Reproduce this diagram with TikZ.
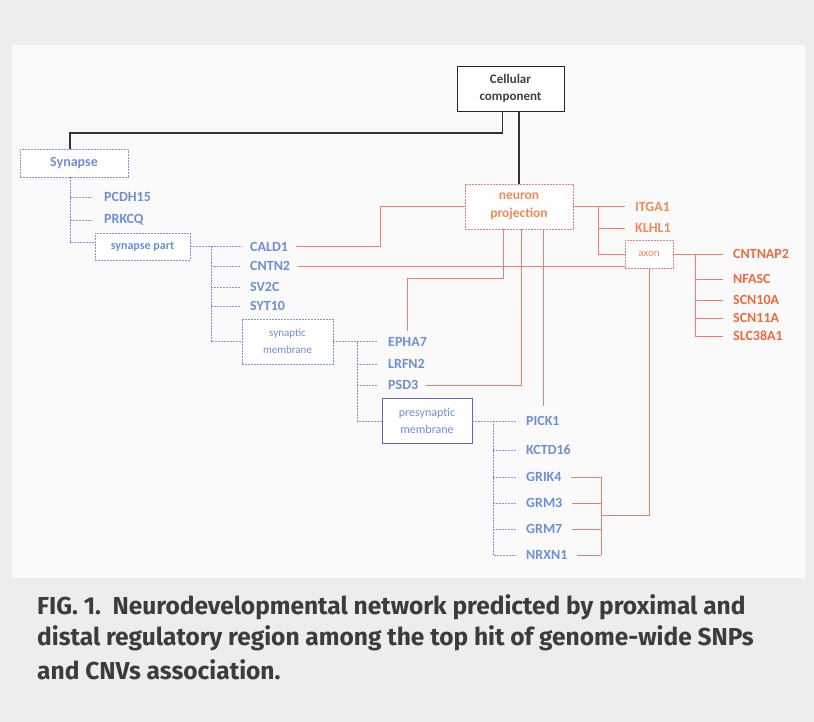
\documentclass[tikz,border=0pt]{standalone}
\usepackage{fontspec}
\newfontfamily\carlito{Carlito}
\newfontfamily\capfont{Fira Sans}
\definecolor{bgc}{HTML}{EDEDED}
\definecolor{panel}{HTML}{FAFAFA}
\definecolor{bl}{HTML}{6E8ED6}
\definecolor{blline}{HTML}{7E98D6}
\definecolor{org}{HTML}{F08A5A}
\definecolor{orgd}{HTML}{EE6A3C}
\definecolor{redl}{HTML}{F07C72}
\definecolor{capc}{HTML}{3C3C3C}
\begin{document}
\begin{tikzpicture}[x=1pt,y=-1pt,
  gb/.style={anchor=west,inner sep=0pt,text=bl,font=\carlito\bfseries\fontsize{14}{16}\selectfont},
  gr/.style={anchor=west,inner sep=0pt,text=org,font=\carlito\bfseries\fontsize{14}{16}\selectfont},
  grd/.style={gr,text=orgd},
  bline/.style={draw=blline,line width=0.6pt,dash pattern=on 2pt off 1pt},
  rline/.style={draw=redl,line width=0.7pt},
  kline/.style={draw=black!80,line width=1.2pt},
  bbox/.style={draw=blline,line width=0.6pt,dash pattern=on 2pt off 1pt,inner sep=0pt,align=center,text=bl,fill=white},
  rbox/.style={draw=redl,line width=0.6pt,dash pattern=on 2pt off 1pt,inner sep=0pt,align=center,text=org,fill=white},
  capline/.style={anchor=west,inner sep=0pt,text=capc,font=\capfont\bfseries\fontsize{24.5}{24.5}\selectfont}
]
\fill[bgc] (0,0) rectangle (814,722);
\fill[panel] (12,45) rectangle (805,578);
\useasboundingbox (0,0) rectangle (814,722);

% boxes
\node[draw=black!85,line width=0.9pt,minimum width=107pt,minimum height=45pt,inner sep=0pt,align=center,text=black!75,fill=white,font=\carlito\bfseries\fontsize{13}{17}\selectfont] (cc) at (510.5,88.5) {Cellular\\component};
\node[bbox,minimum width=108pt,minimum height=28pt,font=\carlito\bfseries\fontsize{14}{16}\selectfont] (syn) at (74,163) {Synapse};
\node[bbox,minimum width=95pt,minimum height=27pt,font=\carlito\bfseries\fontsize{12}{14}\selectfont] (sp) at (142.5,246.5) {synapse part};
\node[bbox,minimum width=91pt,minimum height=45pt,font=\carlito\fontsize{11}{17}\selectfont] (sm) at (287.5,341.5) {synaptic\\membrane};
\node[bbox,draw=black!55!blue!60,solid,minimum width=90pt,minimum height=45pt,font=\carlito\fontsize{12}{17}\selectfont] (pm) at (427,421) {presynaptic\\membrane};
\node[rbox,minimum width=108pt,minimum height=45pt,font=\carlito\bfseries\fontsize{13.5}{18}\selectfont] (np) at (519,206.5) {neuron\\projection};
\node[rbox,minimum width=48pt,minimum height=28pt,font=\carlito\fontsize{11}{12}\selectfont] (ax) at (649,254) {axon};

% genes
\node[gb] (pcdh) at (104,197) {PCDH15};
\node[gb] (prkc) at (104,220) {PRKCQ};
\node[gb] (cald) at (250,246.5) {CALD1};
\node[gb] (cntn) at (250,266) {CNTN2};
\node[gb] (sv2c) at (250,287) {SV2C};
\node[gb] (syt) at (250,306) {SYT10};
\node[gb] (epha) at (388,341.5) {EPHA7};
\node[gb] (lrfn) at (388,364) {LRFN2};
\node[gb] (psd) at (388,385) {PSD3};
\node[gb] (pick) at (526,421) {PICK1};
\node[gb] (kctd) at (526,450) {KCTD16};
\node[gb] (grik) at (526,477) {GRIK4};
\node[gb] (grm3) at (526,503) {GRM3};
\node[gb] (grm7) at (526,529) {GRM7};
\node[gb] (nrxn) at (526,555) {NRXN1};
\node[gr] (itga) at (635,206.5) {ITGA1};
\node[gr] (klhl) at (635,228) {KLHL1};
\node[grd] (cntnap) at (733,254) {CNTNAP2};
\node[grd] (nfasc) at (733,279) {NFASC};
\node[grd] (scn10) at (733,300) {SCN10A};
\node[grd] (scn11) at (733,318) {SCN11A};
\node[grd] (slc) at (733,336) {SLC38A1};

% trunk coordinates
\coordinate (k1) at (70,133);
\coordinate (t1) at (70,242);
\coordinate (t2) at (211,0);
\coordinate (t3) at (357,0);
\coordinate (t4) at (493,0);
\coordinate (r1) at (380,0);
\coordinate (r2) at (598,0);
\coordinate (r3) at (503,278);
\coordinate (r4) at (521,0);
\coordinate (r5) at (695,0);
\coordinate (r6) at (601,515);

% black
\draw[kline] ([xshift=-8pt]cc.south) |- (k1) -- (k1 |- syn.north);
\draw[kline] (np.north |- cc.south) -- (np.north);

% blue tree
\draw[bline] (t1 |- syn.south) -- (t1) -- (t1 -| sp.west);
\draw[bline,shorten >=12pt] (t1 |- pcdh) -- (pcdh.west);
\draw[bline,shorten >=12pt] (t1 |- prkc) -- (prkc.west);
\draw[bline,shorten >=8pt] (sp.east) -- (cald.west);
\draw[bline] (t2 |- sp.east) -- (t2 |- sm.west) -- (sm.west);
\draw[bline,shorten >=10pt] (t2 |- cntn) -- (cntn.west);
\draw[bline,shorten >=10pt] (t2 |- sv2c) -- (sv2c.west);
\draw[bline,shorten >=10pt] (t2 |- syt) -- (syt.west);
\draw[bline,shorten >=10pt] (sm.east) -- (epha.west);
\draw[bline] (t3 |- sm.east) -- (t3 |- pm.west) -- (pm.west);
\draw[bline,shorten >=10pt] (t3 |- lrfn) -- (lrfn.west);
\draw[bline,shorten >=10pt] (t3 |- psd) -- (psd.west);
\draw[bline,shorten >=10pt] (pm.east) -- (pick.west);
\draw[bline,shorten >=10pt] (t4 |- pm.east) -- (t4 |- nrxn) -- (nrxn.west);
\draw[bline,shorten >=10pt] (t4 |- kctd) -- (kctd.west);
\draw[bline,shorten >=10pt] (t4 |- grik) -- (grik.west);
\draw[bline,shorten >=10pt] (t4 |- grm3) -- (grm3.west);
\draw[bline,shorten >=10pt] (t4 |- grm7) -- (grm7.west);

% red links
\draw[rline,shorten <=8pt] (cald.east) -| (r1 |- np.west) -- (np.west);
\draw[rline,shorten <=8pt] (cntn.east) -- (cntn.east -| ax.west);
\draw[rline,shorten >=10pt] (np.east) -- (itga.west);
\draw[rline] (r2 |- np.east) -- (r2 |- ax.west) -- (ax.west);
\draw[rline,shorten >=10pt] (r2 |- klhl) -- (klhl.west);
\draw[rline,shorten >=6pt] (np.south -| r3) -- (r3) -| (epha.north);
\draw[rline,shorten <=8pt] (psd.east) -| (np.south -| r4);
\draw[rline,shorten >=10pt] (np.south -| pick.north) -- (pick.north);
\draw[rline,shorten >=10pt] (ax.east) -- (cntnap.west);
\draw[rline,shorten >=10pt] (r5 |- ax.east) -- (r5 |- slc) -- (slc.west);
\draw[rline,shorten >=10pt] (r5 |- nfasc) -- (nfasc.west);
\draw[rline,shorten >=10pt] (r5 |- scn10) -- (scn10.west);
\draw[rline,shorten >=10pt] (r5 |- scn11) -- (scn11.west);
\draw[rline] (ax.south) |- (r6);
\draw[rline] (r6 |- grik) -- (r6 |- nrxn);
\draw[rline,shorten <=9pt] (grik.east) -- (r6 |- grik);
\draw[rline,shorten <=9pt] (grm3.east) -- (r6 |- grm3);
\draw[rline,shorten <=9pt] (grm7.east) -- (r6 |- grm7);
\draw[rline,shorten <=9pt] (nrxn.east) -- (r6 |- nrxn);

% caption
\node[capline] (c1) at (37,607) {FIG. 1.\ \ Neurodevelopmental network predicted by proximal and};
\node[capline] (c2) at (37,638) {distal regulatory region among the top hit of genome-wide SNPs};
\node[capline] (c3) at (37,670) {and CNVs association.};
\end{tikzpicture}
\end{document}
